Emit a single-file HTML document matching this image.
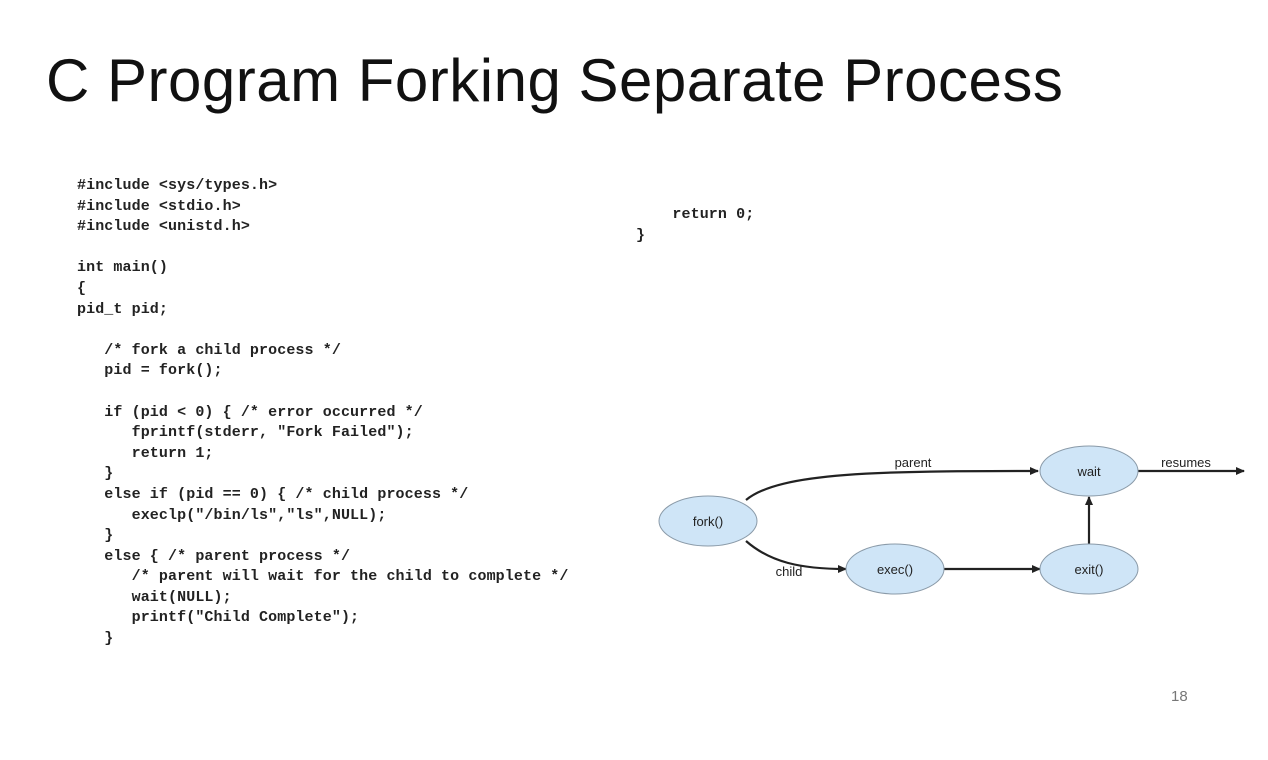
<!DOCTYPE html>
<html><head><meta charset="utf-8"><style>
body{margin:0;width:1268px;height:760px;background:#fff;position:relative;overflow:hidden;font-family:"Liberation Sans",sans-serif}
.t{position:absolute;left:46px;top:46px;font-size:60px;color:#111;white-space:nowrap;letter-spacing:0.5px}
pre{position:absolute;margin:0;font-family:"Liberation Mono",monospace;font-size:15px;line-height:20.6px;color:#222;font-weight:bold;letter-spacing:0.1px}
.n{position:absolute;left:1171px;top:688px;font-size:15px;color:#777}
</style></head><body>
<div class="t">C Program Forking Separate Process</div>
<pre style="left:77px;top:176px">#include &lt;sys/types.h&gt;
#include &lt;stdio.h&gt;
#include &lt;unistd.h&gt;

int main()
{
pid_t pid;

   /* fork a child process */
   pid = fork();

   if (pid &lt; 0) { /* error occurred */
      fprintf(stderr, "Fork Failed");
      return 1;
   }
   else if (pid == 0) { /* child process */
      execlp("/bin/ls","ls",NULL);
   }
   else { /* parent process */
      /* parent will wait for the child to complete */
      wait(NULL);
      printf("Child Complete");
   }</pre>
<pre style="left:636px;top:205px">    return 0;
}</pre>
<svg style="position:absolute;left:0;top:0" width="1268" height="760">
<defs><marker id="a" markerWidth="9" markerHeight="9" refX="8" refY="4.5" orient="auto" markerUnits="userSpaceOnUse"><path d="M0,0.5 L9,4.5 L0,8.5 z" fill="#222"/></marker></defs>
<g stroke="#222" stroke-width="2.2" fill="none">
<path d="M746,500 C780,472 880,471 1038,471" marker-end="url(#a)"/>
<path d="M1138,471 L1244,471" marker-end="url(#a)"/>
<path d="M746,541 C770,562 800,569 846,569" marker-end="url(#a)"/>
<path d="M943,569 L1040,569" marker-end="url(#a)"/>
<path d="M1089,545 L1089,497" marker-end="url(#a)"/>
</g>
<g fill="#cfe5f7" stroke="#8a9aa8" stroke-width="1">
<ellipse cx="708" cy="521" rx="49" ry="25"/>
<ellipse cx="895" cy="569" rx="49" ry="25"/>
<ellipse cx="1089" cy="569" rx="49" ry="25"/>
<ellipse cx="1089" cy="471" rx="49" ry="25"/>
</g>
<g font-family="Liberation Sans,sans-serif" font-size="13" fill="#222" text-anchor="middle">
<text x="708" y="526">fork()</text>
<text x="895" y="574">exec()</text>
<text x="1089" y="574">exit()</text>
<text x="1089" y="476">wait</text>
<text x="913" y="467">parent</text>
<text x="1186" y="467">resumes</text>
<text x="789" y="576">child</text>
</g>
</svg>
<div class="n">18</div>
</body></html>
